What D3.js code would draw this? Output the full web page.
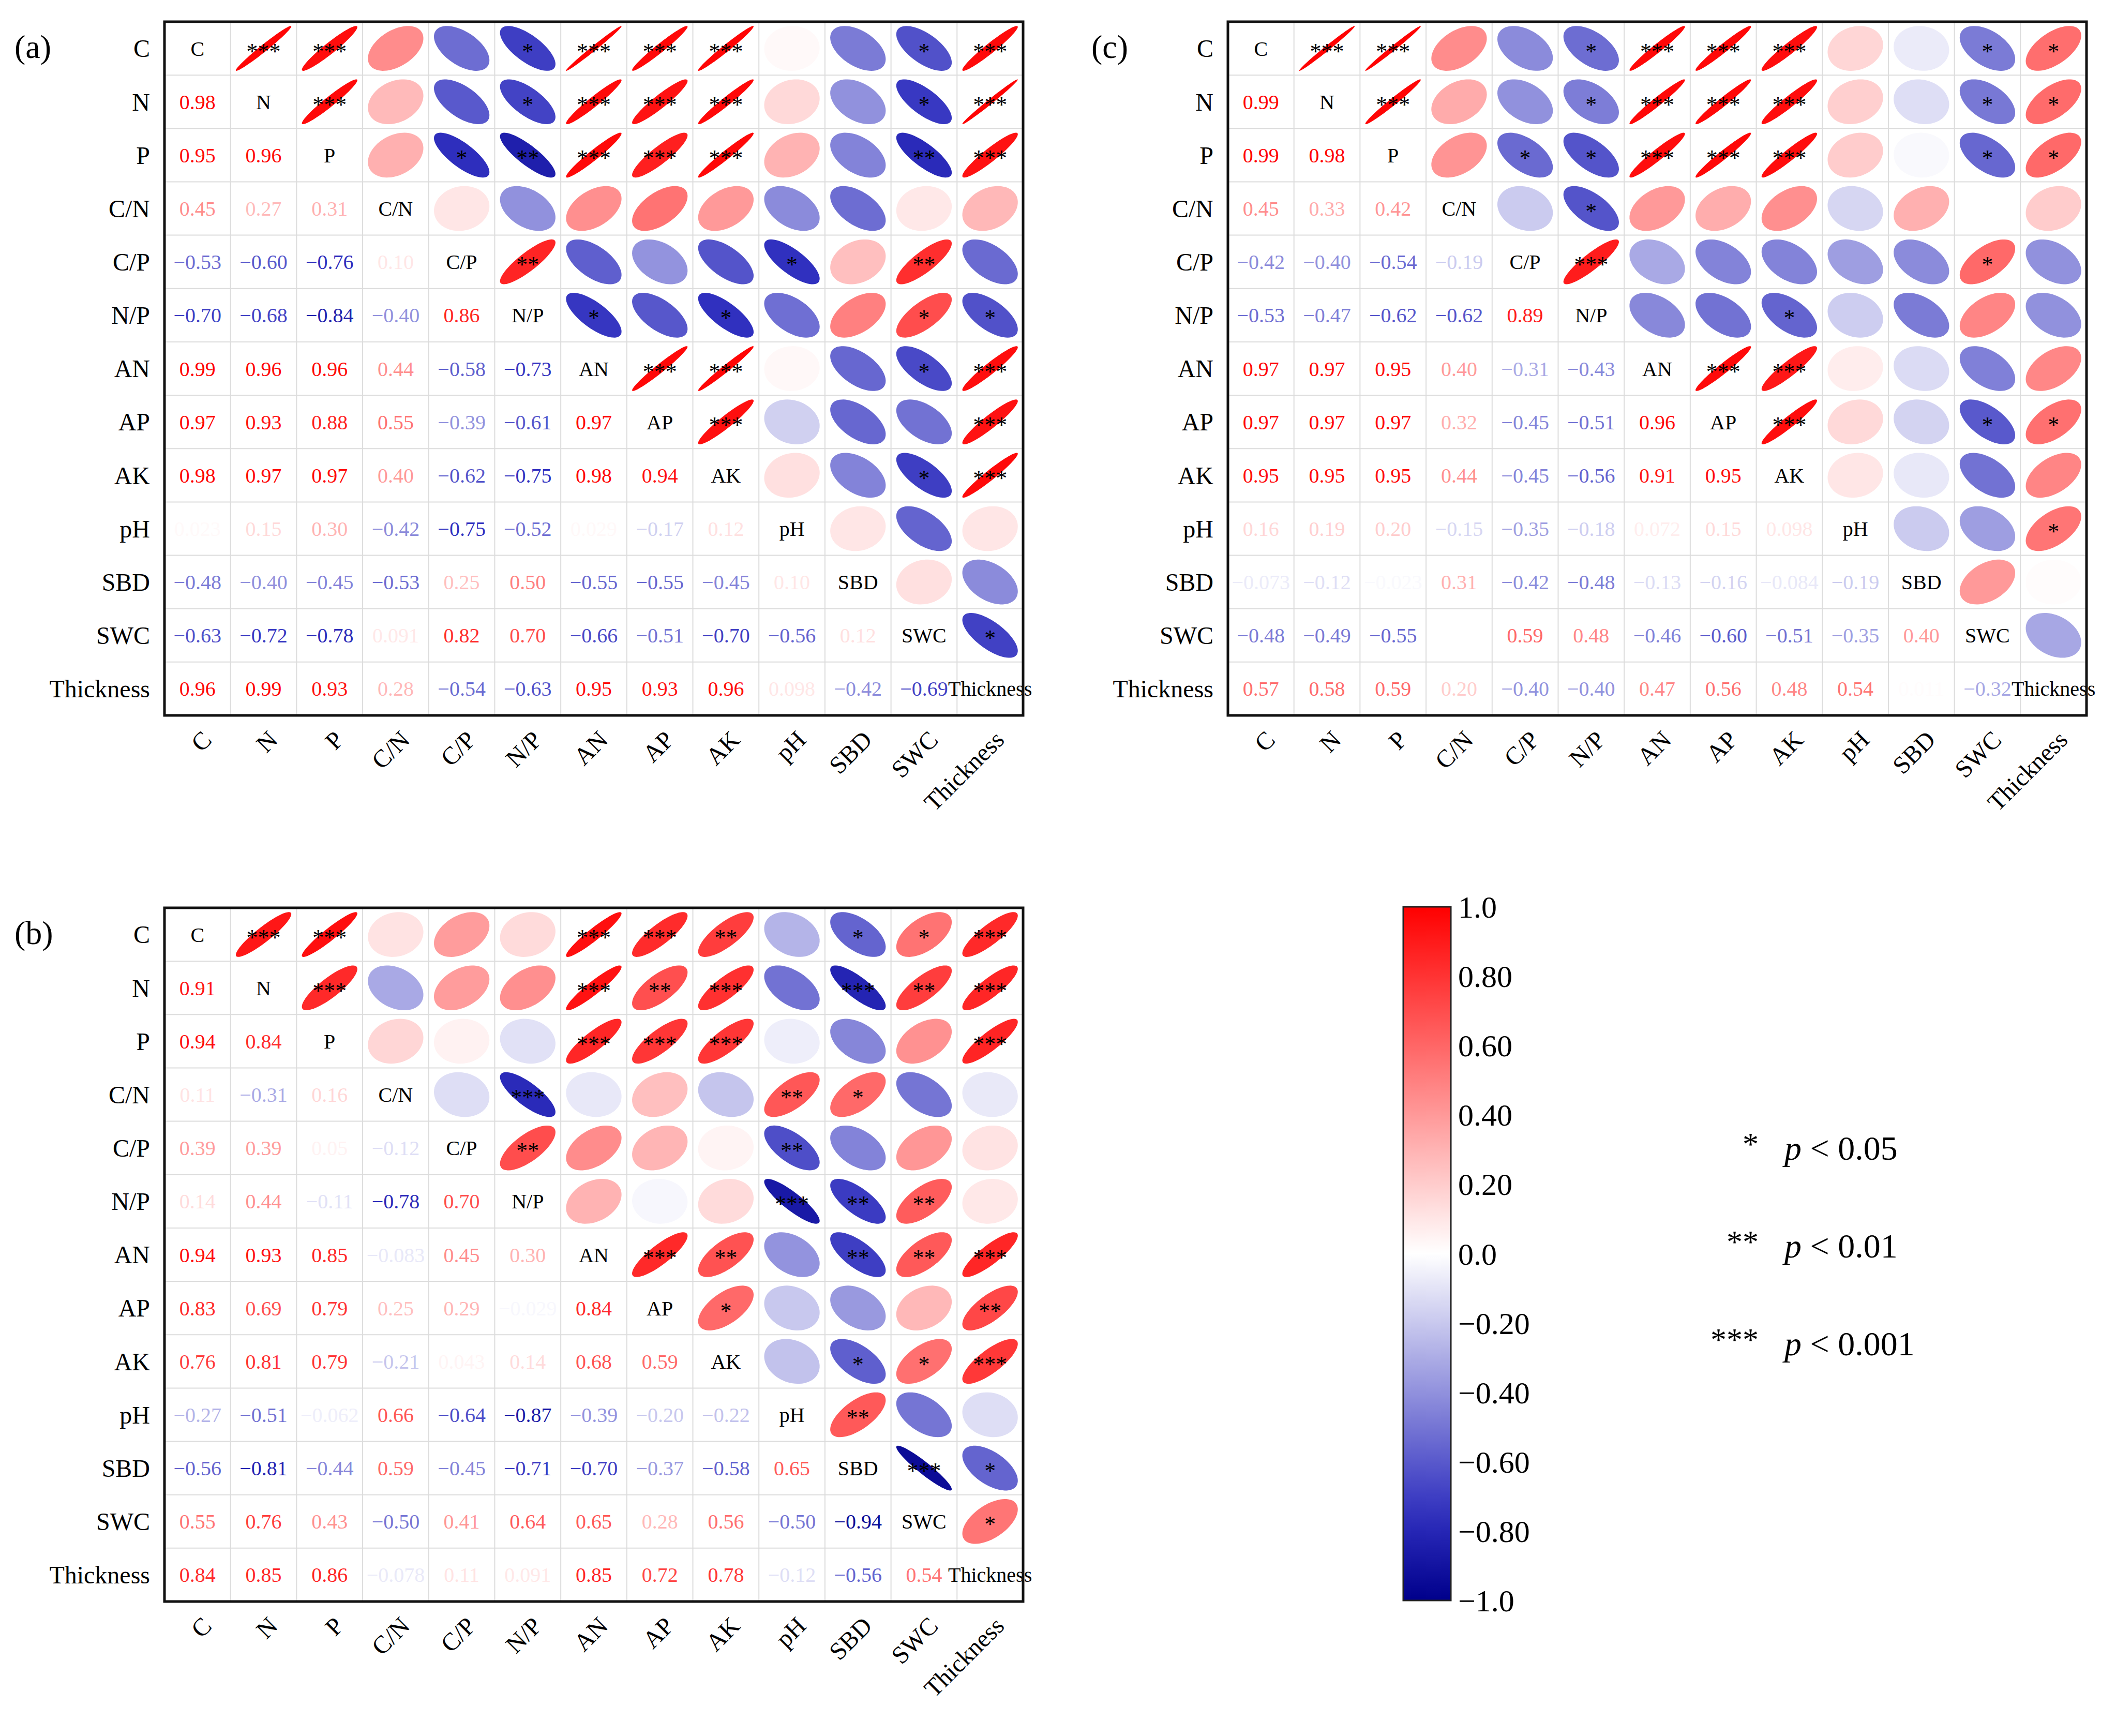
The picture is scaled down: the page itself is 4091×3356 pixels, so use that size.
<!DOCTYPE html>
<html>
<head>
<meta charset="utf-8">
<script src="https://cdn.jsdelivr.net/npm/d3@7"></script>
<style>
  body { margin: 0; background: #fff; }
  text { font-family: "Times New Roman", "Liberation Serif", serif; }
</style>
</head>
<body>
<svg id="chart" width="4091" height="3356"></svg>
<script>
// variable names (row / column order)
const vars = ["C", "N", "P", "C/N", "C/P", "N/P", "AN", "AP", "AK", "pH", "SBD", "SWC", "Thickness"];

// lower triangle correlations, row i holds columns 0..i-1
const lowerA = [
  [],
  [0.98],
  [0.95, 0.96],
  [0.45, 0.27, 0.31],
  [-0.53, -0.60, -0.76, 0.10],
  [-0.70, -0.68, -0.84, -0.40, 0.86],
  [0.99, 0.96, 0.96, 0.44, -0.58, -0.73],
  [0.97, 0.93, 0.88, 0.55, -0.39, -0.61, 0.97],
  [0.98, 0.97, 0.97, 0.40, -0.62, -0.75, 0.98, 0.94],
  [0.023, 0.15, 0.30, -0.42, -0.75, -0.52, 0.029, -0.17, 0.12],
  [-0.48, -0.40, -0.45, -0.53, 0.25, 0.50, -0.55, -0.55, -0.45, 0.10],
  [-0.63, -0.72, -0.78, 0.091, 0.82, 0.70, -0.66, -0.51, -0.70, -0.56, 0.12],
  [0.96, 0.99, 0.93, 0.28, -0.54, -0.63, 0.95, 0.93, 0.96, 0.098, -0.42, -0.69]
];
const lowerB = [
  [],
  [0.91],
  [0.94, 0.84],
  [0.11, -0.31, 0.16],
  [0.39, 0.39, 0.050, -0.12],
  [0.14, 0.44, -0.11, -0.78, 0.70],
  [0.94, 0.93, 0.85, -0.083, 0.45, 0.30],
  [0.83, 0.69, 0.79, 0.25, 0.29, -0.029, 0.84],
  [0.76, 0.81, 0.79, -0.21, 0.043, 0.14, 0.68, 0.59],
  [-0.27, -0.51, -0.062, 0.66, -0.64, -0.87, -0.39, -0.20, -0.22],
  [-0.56, -0.81, -0.44, 0.59, -0.45, -0.71, -0.70, -0.37, -0.58, 0.65],
  [0.55, 0.76, 0.43, -0.50, 0.41, 0.64, 0.65, 0.28, 0.56, -0.50, -0.94],
  [0.84, 0.85, 0.86, -0.078, 0.11, 0.091, 0.85, 0.72, 0.78, -0.12, -0.56, 0.54]
];
const lowerC = [
  [],
  [0.99],
  [0.99, 0.98],
  [0.45, 0.33, 0.42],
  [-0.42, -0.40, -0.54, -0.19],
  [-0.53, -0.47, -0.62, -0.62, 0.89],
  [0.97, 0.97, 0.95, 0.40, -0.31, -0.43],
  [0.97, 0.97, 0.97, 0.32, -0.45, -0.51, 0.96],
  [0.95, 0.95, 0.95, 0.44, -0.45, -0.56, 0.91, 0.95],
  [0.16, 0.19, 0.20, -0.15, -0.35, -0.18, 0.072, 0.15, 0.098],
  [-0.073, -0.12, -0.023, 0.31, -0.42, -0.48, -0.13, -0.16, -0.084, -0.19],
  [-0.48, -0.49, -0.55, 0.0, 0.59, 0.48, -0.46, -0.60, -0.51, -0.35, 0.40],
  [0.57, 0.58, 0.59, 0.20, -0.40, -0.40, 0.47, 0.56, 0.48, 0.54, 0.011, -0.32]
];

// significance stars, upper triangle, row i holds columns i+1..12
const starsA = [
  ["***", "***", "", "", "*", "***", "***", "***", "", "", "*", "***"],
  ["***", "", "", "*", "***", "***", "***", "", "", "*", "***"],
  ["", "*", "**", "***", "***", "***", "", "", "**", "***"],
  ["", "", "", "", "", "", "", "", ""],
  ["**", "", "", "", "*", "", "**", ""],
  ["*", "", "*", "", "", "*", "*"],
  ["***", "***", "", "", "*", "***"],
  ["***", "", "", "", "***"],
  ["", "", "*", "***"],
  ["", "", ""],
  ["", ""],
  ["*"]
];
const starsB = [
  ["***", "***", "", "", "", "***", "***", "**", "", "*", "*", "***"],
  ["***", "", "", "", "***", "**", "***", "", "***", "**", "***"],
  ["", "", "", "***", "***", "***", "", "", "", "***"],
  ["", "***", "", "", "", "**", "*", "", ""],
  ["**", "", "", "", "**", "", "", ""],
  ["", "", "", "***", "**", "**", ""],
  ["***", "**", "", "**", "**", "***"],
  ["*", "", "", "", "**"],
  ["", "*", "*", "***"],
  ["**", "", ""],
  ["***", "*"],
  ["*"]
];
const starsC = [
  ["***", "***", "", "", "*", "***", "***", "***", "", "", "*", "*"],
  ["***", "", "", "*", "***", "***", "***", "", "", "*", "*"],
  ["", "*", "*", "***", "***", "***", "", "", "*", "*"],
  ["", "*", "", "", "", "", "", "", ""],
  ["***", "", "", "", "", "", "*", ""],
  ["", "", "*", "", "", "", ""],
  ["***", "***", "", "", "", ""],
  ["***", "", "", "*", "*"],
  ["", "", "", ""],
  ["", "", "*"],
  ["", ""],
  [""]
];

// colour bar ticks and legend
const barTicks = [1.0, 0.8, 0.6, 0.4, 0.2, 0.0, -0.2, -0.4, -0.6, -0.8, -1.0];
const legendStars = ["*", "**", "***"];
const legendP = ["0.05", "0.01", "0.001"];

const svg = d3.select("#chart");

const color = d3.scaleLinear()
  .domain([-1, -0.75, 0, 1])
  .range(["#00008B", "#3030bf", "#ffffff", "#ff0000"])
  .interpolate(d3.interpolateRgb);

function fmt(v) {
  if (v === 0) return "";
  if (Math.abs(v) < 0.1) return d3.format(".2")(v);
  return d3.format(".2f")(v);
}

function drawPanel(label, lower, stars, x0, y0) {
  const W = 1660, H = 1341, n = vars.length;
  const xs = d3.scaleBand().domain(d3.range(n)).range([x0, x0 + W]);
  const ys = d3.scaleBand().domain(d3.range(n)).range([y0, y0 + H]);
  const cw = xs.bandwidth(), ch = ys.bandwidth();
  const g = svg.append("g");

  // full matrix
  const cells = [];
  for (let i = 0; i < n; i++) {
    for (let j = 0; j < n; j++) {
      if (i === j) cells.push({i, j, type: "diag"});
      else if (j < i) cells.push({i, j, type: "low", v: lower[i][j]});
      else cells.push({i, j, type: "up", v: lower[j][i], s: stars[i][j - i - 1]});
    }
  }

  // grid
  g.selectAll("line.v").data(d3.range(1, n)).enter().append("line")
    .attr("x1", d => xs(d)).attr("x2", d => xs(d))
    .attr("y1", y0).attr("y2", y0 + H)
    .attr("stroke", "#dcdcdc").attr("stroke-width", 2);
  g.selectAll("line.h").data(d3.range(1, n)).enter().append("line")
    .attr("y1", d => ys(d)).attr("y2", d => ys(d))
    .attr("x1", x0).attr("x2", x0 + W)
    .attr("stroke", "#dcdcdc").attr("stroke-width", 2);

  // ellipses
  const line = d3.line().curve(d3.curveLinearClosed);
  const k = Math.SQRT1_2;
  g.selectAll("path.ell").data(cells.filter(c => c.type === "up")).enter().append("path")
    .attr("d", c => {
      const cx = xs(c.j) + cw / 2, cy = ys(c.i) + ch / 2;
      const a = 0.42 * Math.sqrt(1 + c.v), b = 0.42 * Math.sqrt(1 - c.v);
      return line(d3.range(0, 72).map(t => {
        const th = t / 72 * 2 * Math.PI;
        const u = a * Math.cos(th), w = b * Math.sin(th);
        return [cx + (u * k - w * k) * cw, cy - (u * k + w * k) * ch];
      }));
    })
    .attr("fill", c => color(c.v));

  g.selectAll("text.star").data(cells.filter(c => c.type === "up" && c.s)).enter().append("text")
    .attr("x", c => xs(c.j) + cw / 2)
    .attr("y", c => ys(c.i) + ch / 2 + 20)
    .attr("text-anchor", "middle")
    .attr("font-size", 44)
    .text(c => c.s);

  g.selectAll("text.val").data(cells.filter(c => c.type === "low")).enter().append("text")
    .attr("x", c => xs(c.j) + cw / 2)
    .attr("y", c => ys(c.i) + ch / 2)
    .attr("dy", "0.35em")
    .attr("text-anchor", "middle")
    .attr("font-size", 40)
    .attr("fill", c => color(c.v))
    .text(c => fmt(c.v));

  g.selectAll("text.diag").data(cells.filter(c => c.type === "diag")).enter().append("text")
    .attr("x", c => xs(c.j) + cw / 2)
    .attr("y", c => ys(c.i) + ch / 2)
    .attr("dy", "0.35em")
    .attr("text-anchor", "middle")
    .attr("font-size", 40)
    .text(c => vars[c.i]);

  // border
  g.append("rect").attr("x", x0).attr("y", y0).attr("width", W).attr("height", H)
    .attr("fill", "none").attr("stroke", "#111").attr("stroke-width", 5);

  // row labels
  g.selectAll("text.row").data(vars).enter().append("text")
    .attr("x", x0 - 28).attr("y", (d, i) => ys(i) + ch / 2)
    .attr("dy", "0.35em").attr("text-anchor", "end")
    .attr("font-size", 48).text(d => d);

  // column labels
  g.selectAll("text.col").data(vars).enter().append("text")
    .attr("transform", (d, i) => `translate(${xs(i) + cw / 2 + 30},${y0 + H + 50}) rotate(-45)`)
    .attr("text-anchor", "end")
    .attr("font-size", 48).text(d => d);

  svg.append("text").attr("x", 28).attr("y", y0 + 70)
    .attr("font-size", 64).text(label);
}

drawPanel("(a)", lowerA, starsA, 318, 42);
drawPanel("(c)", lowerC, starsC, 2374, 42);
svg.select("g:last-of-type");
drawPanel("(b)", lowerB, starsB, 318, 1755);
// (c) panel label sits to the left of its matrix
svg.selectAll("text").filter(function () { return d3.select(this).text() === "(c)"; })
  .attr("x", 2110);

// colour bar
const bx = 2713, bw = 92, by0 = 1753, by1 = 3094;
const cy = d3.scaleLinear().domain([1, -1]).range([by0, by1]);
const defs = svg.append("defs");
const grad = defs.append("linearGradient").attr("id", "cbar")
  .attr("x1", 0).attr("x2", 0).attr("y1", 0).attr("y2", 1);
grad.selectAll("stop").data(d3.range(0, 21)).enter().append("stop")
  .attr("offset", d => d / 20)
  .attr("stop-color", d => color(1 - d / 10));
svg.append("rect").attr("x", bx).attr("y", by0).attr("width", bw).attr("height", by1 - by0)
  .attr("fill", "url(#cbar)").attr("stroke", "#222").attr("stroke-width", 3);
svg.selectAll("text.tick").data(barTicks).enter().append("text")
  .attr("x", bx + bw + 14).attr("y", d => cy(d)).attr("dy", "0.35em")
  .attr("font-size", 60)
  .text(d => (d < 0 ? "\u2212" : "") + (Math.abs(d) === 1 || d === 0 ? Math.abs(d).toFixed(1) : Math.abs(d).toFixed(2)));

// significance legend
const ly = d3.scalePoint().domain(legendP).range([2222, 2600]);
legendP.forEach((p, i) => {
  svg.append("text").attr("x", 3400).attr("y", ly(p) + 10).attr("text-anchor", "end")
    .attr("font-size", 62).text(legendStars[i]);
  const t = svg.append("text").attr("x", 3450).attr("y", ly(p) + 20).attr("font-size", 66);
  t.append("tspan").attr("font-style", "italic").text("p");
  t.append("tspan").text(" < " + p);
});
</script>
</body>
</html>
